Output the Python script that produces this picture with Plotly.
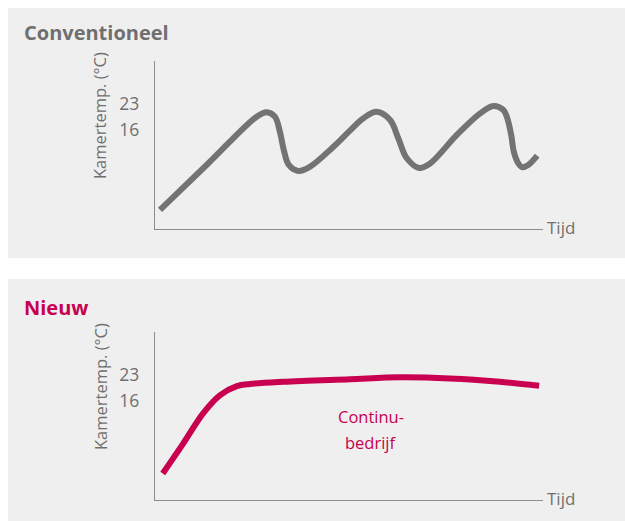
import plotly.graph_objects as go

# Time axis (0-100 arbitrary units) and room temperature (°C)
conv_time = [1.3, 13.7, 26.2, 28.8, 30.9, 32.2, 33.2, 34.5, 36.9, 39.9, 46.0,
             50.3, 53.7, 57.1, 60.6, 62.7, 64.9, 68.1, 70.9, 77.8, 83.8, 87.2,
             89.8, 90.7, 91.8, 92.5, 93.6, 94.6, 96.2, 98.5]
conv_temp = [-5.5, 7.0, 19.6, 20.8, 19.6, 15.5, 10.6, 6.6, 5.0, 6.1, 11.5,
             15.9, 19.2, 20.9, 18.7, 13.8, 8.4, 5.8, 7.0, 14.7, 20.5, 22.5,
             21.4, 19.5, 14.7, 10.1, 7.1, 6.0, 6.6, 9.1]

new_time = [2.0, 7.3, 12.4, 16.8, 21.1, 24.5, 33.1, 50.3, 63.1, 76.0, 88.9, 99.0]
new_temp = [-3.5, 4.6, 12.7, 17.6, 20.0, 20.6, 21.2, 21.9, 22.4, 22.1, 21.2, 20.1]

tick_values = [16, 23]
tick_labels = ["16", "23"]

GRAY_LINE = "#737373"
CRIMSON = "#c8004f"
TEXT_GRAY = "#6f6f6f"
AXIS_GRAY = "#8c8c8c"
PANEL_BG = "#efefef"
FONT = "Open Sans"

W, H = 625, 521


def px_x(p):
    return p / W


def px_y(p):
    return 1 - p / H


fig = go.Figure()

fig.add_trace(go.Scatter(
    x=conv_time, y=conv_temp, mode="lines",
    line=dict(color=GRAY_LINE, width=6, shape="spline", smoothing=1.0),
    xaxis="x", yaxis="y", hoverinfo="skip", showlegend=False,
))
fig.add_trace(go.Scatter(
    x=new_time, y=new_temp, mode="lines",
    line=dict(color=CRIMSON, width=6, shape="spline", smoothing=1.0),
    xaxis="x2", yaxis="y2", hoverinfo="skip", showlegend=False,
))

x_dom = [px_x(155), px_x(543)]
y_range = [-10.65, 34.6]

common_x = dict(range=[0, 100], showgrid=False, zeroline=False, showline=True,
                linecolor=AXIS_GRAY, linewidth=1.3, showticklabels=False,
                ticks="", fixedrange=True)
common_y = dict(range=y_range, showgrid=False, zeroline=False, showline=True,
                linecolor=AXIS_GRAY, linewidth=1.3, tickmode="array",
                tickvals=tick_values, ticktext=tick_labels, ticks="outside",
                ticklen=11, tickcolor="rgba(0,0,0,0)",
                tickfont=dict(family=FONT, size=17.5, color=TEXT_GRAY),
                fixedrange=True)

fig.update_layout(
    width=W, height=H,
    margin=dict(l=0, r=0, t=0, b=0),
    paper_bgcolor="white",
    plot_bgcolor="rgba(0,0,0,0)",
    xaxis=dict(domain=x_dom, anchor="y", **common_x),
    yaxis=dict(domain=[px_y(229), px_y(61)], anchor="x", **common_y),
    xaxis2=dict(domain=x_dom, anchor="y2", **common_x),
    yaxis2=dict(domain=[px_y(500), px_y(332)], anchor="x2", **common_y),
    shapes=[
        dict(type="rect", xref="paper", yref="paper", layer="below",
             x0=px_x(8), x1=1, y0=px_y(258), y1=px_y(8),
             fillcolor=PANEL_BG, line=dict(width=0)),
        dict(type="rect", xref="paper", yref="paper", layer="below",
             x0=px_x(8), x1=1, y0=0, y1=px_y(279),
             fillcolor=PANEL_BG, line=dict(width=0)),
    ],
)

annotations = [
    dict(text="<b>Conventioneel</b>", x=px_x(22), y=px_y(32),
         xanchor="left", yanchor="middle",
         font=dict(family=FONT, size=20, color=TEXT_GRAY)),
    dict(text="<b>Nieuw</b>", x=px_x(22), y=px_y(307),
         xanchor="left", yanchor="middle",
         font=dict(family=FONT, size=20, color=CRIMSON)),
    dict(text="Kamertemp. (°C)", x=px_x(100), y=px_y(116), textangle=-90,
         xanchor="center", yanchor="middle",
         font=dict(family=FONT, size=16.5, color=TEXT_GRAY)),
    dict(text="Kamertemp. (°C)", x=px_x(100), y=px_y(387), textangle=-90,
         xanchor="center", yanchor="middle",
         font=dict(family=FONT, size=16.5, color=TEXT_GRAY)),
    dict(text="Tijd", x=px_x(545), y=px_y(228),
         xanchor="left", yanchor="middle",
         font=dict(family=FONT, size=17, color=TEXT_GRAY)),
    dict(text="Tijd", x=px_x(545), y=px_y(498),
         xanchor="left", yanchor="middle",
         font=dict(family=FONT, size=17, color=TEXT_GRAY)),
    dict(text="Continu-", x=px_x(371), y=px_y(416),
         xanchor="center", yanchor="middle",
         font=dict(family=FONT, size=16.5, color=CRIMSON)),
    dict(text="bedrijf", x=px_x(371), y=px_y(442),
         xanchor="center", yanchor="middle",
         font=dict(family=FONT, size=16.5, color=CRIMSON)),
]
for a in annotations:
    a.update(xref="paper", yref="paper", showarrow=False)
fig.update_layout(annotations=annotations)

fig.write_html("out.html", config={"displayModeBar": False})
